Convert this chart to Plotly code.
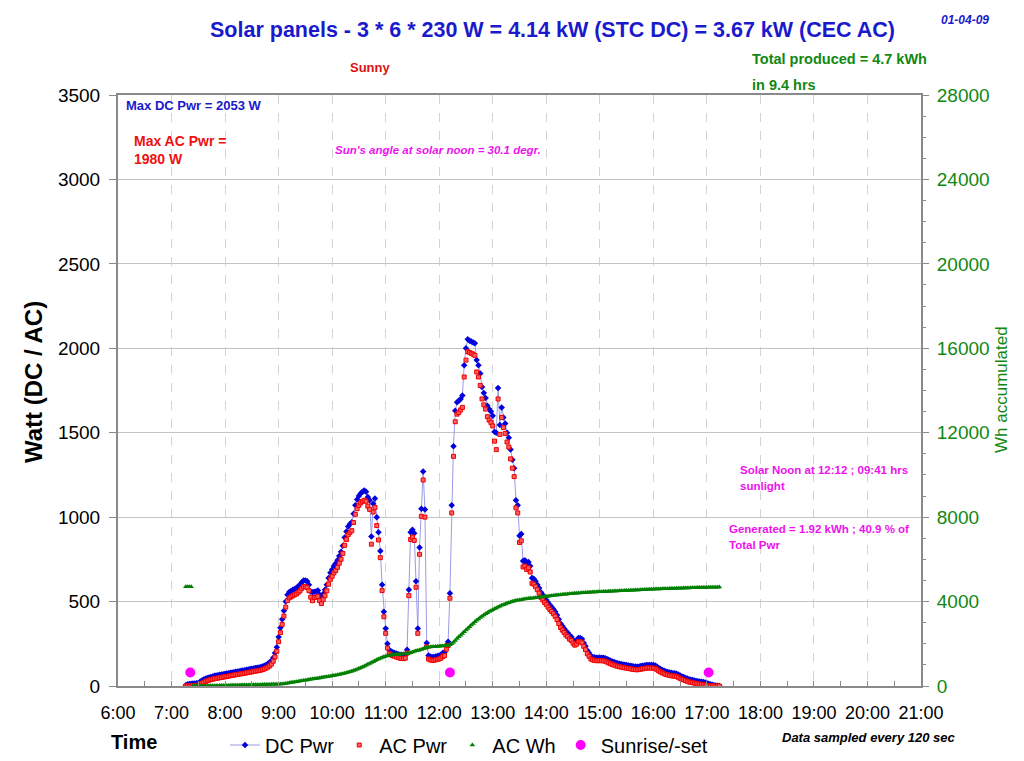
import pandas as pd
import plotly.graph_objects as go

# ---------------- data (2-minute samples starting 07:16) ----------------
START = "2009-01-04 07:16"

DC_PWR = (
    [5, 10, 12, 14, 15, 15, 16, 18, 25, 32, 38, 43, 47, 51, 54, 57, 60, 62, 64, 66, 68, 70]
    + [72, 74, 76, 78, 80, 82, 84, 86, 88, 90, 92, 94, 96, 98, 100, 102, 104, 106, 108, 110, 113, 116, 120, 125, 132, 140, 150, 168, 195, 230]
    + [290, 345, 395, 445, 500, 540, 556, 562, 570, 575, 580, 590, 600, 615, 625, 625, 620, 600, 560, 555, 558, 560, 565, 540, 520, 545, 570, 600, 640, 670]
    + [690, 710, 725, 745, 770, 795, 830, 880, 915, 945, 960, 970, 1020, 1070, 1105, 1125, 1140, 1150, 1158, 1150, 1120, 1100, 885, 1080, 1110, 1000, 910, 800, 600, 440]
    + [340, 250, 215, 205, 200, 196, 192, 188, 185, 183, 182, 185, 215, 570, 910, 925, 905, 620, 340, 820, 1050, 1270, 1045, 255, 180, 175, 172, 172, 175, 178]
    + [180, 185, 195, 200, 240, 262, 550, 1070, 1420, 1630, 1680, 1690, 1700, 1720, 1900, 2000, 2053, 2045, 2040, 2035, 2030, 1930, 1900, 1850, 1770, 1735, 1705, 1660, 1640, 1625]
    + [1600, 1505, 1500, 1765, 1545, 1650, 1590, 1555, 1500, 1470, 1400, 1340, 1290, 1100, 1070, 890, 900, 740, 745, 725, 735, 710, 640, 635, 620, 600, 580, 555, 540, 525]
    + [510, 495, 480, 468, 455, 440, 420, 395, 370, 355, 340, 325, 315, 300, 292, 275, 262, 270, 285, 285, 278, 255, 235, 210, 195, 178, 172, 170, 168, 168]
    + [168, 168, 167, 165, 160, 155, 150, 145, 142, 138, 135, 132, 130, 128, 126, 124, 122, 120, 118, 116, 115, 114, 116, 118, 120, 122, 124, 125, 125, 124]
    + [124, 122, 115, 106, 100, 95, 90, 86, 83, 80, 78, 76, 75, 73, 68, 62, 57, 53, 48, 44, 40, 37, 35, 32, 30, 28, 27, 25, 24, 20]
    + [16, 13, 11, 8, 5, 3, 1, 0]
)

AC_PWR = (
    [0, 0, 0, 0, 2, 3, 4, 5, 10, 16, 22, 27, 31, 35, 38, 41, 43, 45, 47, 49, 51, 53]
    + [55, 57, 59, 61, 63, 65, 67, 69, 71, 72, 74, 76, 78, 80, 82, 84, 86, 88, 90, 92, 94, 97, 101, 106, 112, 120, 130, 147, 172, 206]
    + [262, 316, 365, 414, 467, 506, 522, 528, 535, 540, 545, 555, 564, 578, 588, 588, 583, 564, 526, 505, 524, 526, 531, 505, 488, 511, 535, 564, 603, 632]
    + [650, 670, 684, 703, 727, 751, 785, 833, 867, 896, 910, 920, 968, 1017, 1050, 1070, 1084, 1094, 1100, 1094, 1065, 1046, 840, 1030, 1058, 950, 865, 760, 565, 410]
    + [312, 225, 192, 184, 180, 176, 172, 168, 165, 163, 162, 165, 195, 535, 868, 882, 862, 585, 312, 780, 1005, 1220, 1000, 232, 160, 155, 152, 152, 155, 158]
    + [160, 165, 175, 180, 218, 240, 520, 1025, 1360, 1565, 1610, 1620, 1635, 1650, 1830, 1930, 1980, 1975, 1970, 1965, 1958, 1860, 1830, 1780, 1700, 1665, 1640, 1595, 1575, 1560]
    + [1540, 1450, 1400, 1700, 1490, 1590, 1530, 1495, 1445, 1415, 1345, 1290, 1240, 1055, 1025, 850, 860, 705, 710, 690, 700, 675, 608, 603, 588, 570, 550, 525, 510, 495]
    + [482, 467, 453, 441, 428, 413, 394, 370, 346, 331, 317, 302, 292, 278, 270, 254, 242, 248, 262, 262, 256, 235, 215, 191, 176, 160, 155, 152, 150, 150]
    + [150, 150, 149, 147, 142, 137, 132, 127, 124, 120, 117, 114, 112, 110, 108, 106, 104, 102, 100, 98, 97, 96, 98, 100, 102, 104, 106, 107, 107, 106]
    + [106, 104, 97, 89, 83, 78, 73, 69, 66, 63, 61, 59, 58, 56, 51, 45, 40, 36, 32, 28, 24, 22, 20, 17, 15, 13, 12, 10, 9, 6]
    + [3, 1, 0, 0, 0, 0, 0, 0]
)

AC_WH = (
    [4700, 4700, 4700, 4700, 0, 0, 1, 1, 2, 3, 4, 5, 7, 8, 10, 11, 13, 15, 17, 19, 21, 23]
    + [25, 27, 29, 31, 33, 35, 37, 39, 41, 43, 45, 47, 49, 51, 53, 55, 57, 59, 61, 63, 65, 67, 69, 71, 73, 75, 77, 79, 81, 83]
    + [86, 92, 100, 110, 122, 135, 149, 163, 177, 191, 205, 219, 233, 247, 261, 275, 289, 303, 317, 331, 345, 358, 371, 384, 397, 410, 423, 437, 451, 465]
    + [480, 495, 511, 528, 546, 565, 585, 606, 628, 651, 676, 702, 730, 760, 792, 826, 862, 900, 940, 982, 1025, 1068, 1110, 1152, 1195, 1238, 1280, 1320, 1355, 1385]
    + [1410, 1430, 1445, 1458, 1470, 1480, 1490, 1500, 1508, 1516, 1524, 1532, 1540, 1555, 1580, 1610, 1640, 1665, 1685, 1705, 1735, 1770, 1805, 1825, 1835, 1845, 1855, 1862, 1870, 1877]
    + [1884, 1890, 1896, 1902, 1910, 1922, 1950, 2000, 2075, 2160, 2245, 2330, 2410, 2490, 2570, 2650, 2730, 2810, 2890, 2965, 3040, 3110, 3180, 3245, 3305, 3365, 3420, 3475, 3525, 3570]
    + [3615, 3655, 3695, 3740, 3780, 3820, 3855, 3890, 3920, 3950, 3978, 4003, 4025, 4045, 4063, 4078, 4092, 4105, 4118, 4130, 4142, 4153, 4163, 4173, 4183, 4193, 4203, 4212, 4221, 4230]
    + [4240, 4252, 4264, 4275, 4286, 4296, 4306, 4316, 4325, 4334, 4343, 4351, 4359, 4367, 4375, 4382, 4389, 4396, 4403, 4410, 4416, 4422, 4428, 4434, 4439, 4444, 4449, 4454, 4458, 4462]
    + [4466, 4470, 4474, 4478, 4482, 4486, 4490, 4494, 4498, 4502, 4506, 4510, 4514, 4518, 4522, 4526, 4530, 4534, 4538, 4542, 4546, 4550, 4554, 4558, 4562, 4566, 4570, 4574, 4578, 4582]
    + [4586, 4590, 4594, 4597, 4600, 4603, 4606, 4609, 4612, 4615, 4618, 4621, 4624, 4627, 4630, 4633, 4636, 4639, 4642, 4645, 4648, 4651, 4654, 4657, 4660, 4662, 4664, 4666, 4668, 4670]
    + [4672, 4674, 4676, 4678, 4680, 4682, 4684, 4686]
)

SUN_TIMES = ["2009-01-04 07:21", "2009-01-04 12:12", "2009-01-04 17:02"]
SUN_VALUES = [80, 80, 80]

X_RANGE = ["2009-01-04 06:00", "2009-01-04 21:00"]

TITLE = "Solar panels - 3 * 6 * 230 W = 4.14 kW (STC DC) = 3.67 kW (CEC AC)"

times = pd.date_range(START, periods=len(DC_PWR), freq="2min")

# ---------------- layout helpers ----------------
W, H = 1024, 761
L, R, T, B = 118, 921, 95, 686


def px(x):
    return (x - L) / (R - L)


def py(y):
    return (B - y) / (B - T)


FONT = "Liberation Sans, Arial, sans-serif"
NARROW = "Liberation Sans Narrow, Arial Narrow, Liberation Sans, sans-serif"

fig = go.Figure()

fig.add_trace(go.Scatter(
    x=times, y=DC_PWR, name="DC Pwr", mode="lines+markers",
    line=dict(color="#9a9ae8", width=1),
    marker=dict(symbol="diamond", size=5, color="#0000dd"),
))
fig.add_trace(go.Scatter(
    x=times, y=AC_PWR, name="AC Pwr", mode="markers",
    marker=dict(symbol="square", size=4, color="#ff6060", line=dict(color="#ee0000", width=1)),
))
fig.add_trace(go.Scatter(
    x=times, y=AC_WH, name="AC Wh", mode="markers", yaxis="y2",
    marker=dict(symbol="triangle-up", size=5, color="#008000"),
))
fig.add_trace(go.Scatter(
    x=SUN_TIMES, y=SUN_VALUES, name="Sunrise/-set", mode="markers",
    marker=dict(symbol="circle", size=10, color="#ff00ff"),
))

ann = []


def add_text(text, x, y, size, color, bold=True, italic=False, family=FONT,
             xanchor="left", angle=0):
    t = text
    if bold:
        t = "<b>" + t + "</b>"
    if italic:
        t = "<i>" + t + "</i>"
    ann.append(dict(text=t, x=px(x), y=py(y), xref="paper", yref="paper",
                    xanchor=xanchor, yanchor="middle", showarrow=False,
                    textangle=angle, align="left",
                    font=dict(size=size, color=color, family=family)))


add_text(TITLE, 552, 30, 21.5, "#1a1acc", family=NARROW, xanchor="center")
add_text("01-04-09", 965, 20, 12, "#1a1acc", italic=True, xanchor="center")
add_text("Total produced = 4.7 kWh", 750, 59, 14.5, "#118811", family=NARROW)
add_text("in 9.4 hrs", 750, 85, 14.5, "#118811", family=NARROW)
add_text("Sunny", 370, 68, 13, "#dd1111", family=NARROW, xanchor="center")
add_text("Max DC Pwr = 2053 W", 124, 106, 13, "#1a1acc")
add_text("Max AC Pwr =", 132, 141, 14, "#ee1111")
add_text("1980 W", 132, 159, 14, "#ee1111")
add_text("Sun's angle at solar noon = 30.1 degr.", 333, 150, 11.5, "#ee11ee", italic=True)
add_text("Solar Noon at 12:12 ; 09:41 hrs", 738, 470, 11.5, "#ee11ee")
add_text("sunlight", 738, 486, 11.5, "#ee11ee")
add_text("Generated = 1.92 kWh ; 40.9 % of", 727, 529, 11.5, "#ee11ee")
add_text("Total Pwr", 727, 545, 11.5, "#ee11ee")
add_text("Data sampled every 120 sec", 868, 737, 13, "#000000", italic=True, xanchor="center")
add_text("Time", 134, 742, 20, "#000000", xanchor="center")
add_text("Watt (DC / AC)", 33, 382, 24, "#000000", xanchor="center", angle=-90)
add_text("Wh accumulated", 1001, 390, 17, "#118811", bold=False, xanchor="center", angle=-90)

fig.update_layout(
    width=W, height=H,
    margin=dict(l=L, r=W - R, t=T, b=H - B, pad=0, autoexpand=False),
    paper_bgcolor="white", plot_bgcolor="white",
    font=dict(family=FONT, color="#000000"),
    showlegend=True,
    legend=dict(orientation="h", x=px(225), y=py(745), xanchor="left", yanchor="middle",
                font=dict(size=20, family=FONT, color="#000000"),
                bgcolor="rgba(0,0,0,0)", itemsizing="trace"),
    annotations=ann,
    xaxis=dict(
        type="date", range=X_RANGE, dtick=3600000, tickformat="%-H:%M",
        tick0="2009-01-04 06:00", automargin=False,
        showgrid=True, gridcolor="#d4d4d4", griddash="dash", gridwidth=1,
        showline=True, linecolor="#8a8a8a", linewidth=2, mirror=True,
        ticks="inside", ticklen=5, tickcolor="#8a8a8a",
        minor=dict(dtick=1800000, ticks="inside", ticklen=5, tickcolor="#8a8a8a", showgrid=False),
        tickfont=dict(size=18, color="#000000"),
        ticklabelstandoff=9, zeroline=False,
    ),
    yaxis=dict(
        range=[0, 3500], dtick=500, showgrid=True, gridcolor="#c4c4c4", gridwidth=1,
        showline=True, linecolor="#8a8a8a", linewidth=2, mirror=True, automargin=False,
        ticks="outside", ticklen=7, tickcolor="#8a8a8a",
        tickfont=dict(size=19, color="#000000"), ticklabelstandoff=5, zeroline=False,
    ),
    yaxis2=dict(
        range=[0, 28000], dtick=4000, overlaying="y", side="right", showgrid=False,
        ticks="outside", ticklen=7, tickcolor="#8a8a8a", tickformat="d", automargin=False,
        minor=dict(dtick=1000, ticks="outside", ticklen=4, tickcolor="#8a8a8a"),
        tickfont=dict(size=19, color="#118811"), ticklabelstandoff=4, zeroline=False,
        showline=False,
    ),
)

fig.write_html(
    "out.html",
    config={"displayModeBar": False},
    post_script="document.body.style.margin='0';document.body.style.overflow='hidden';",
)
